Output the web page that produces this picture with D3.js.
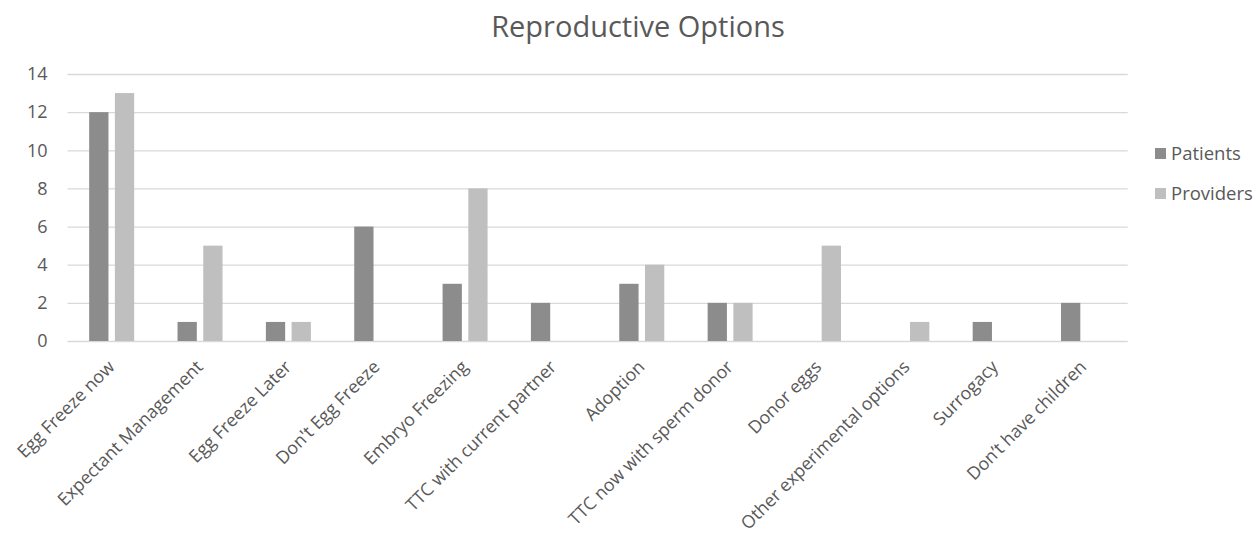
<!DOCTYPE html>
<html>
<head>
<meta charset="utf-8">
<script src="https://cdn.jsdelivr.net/npm/d3@7"></script>
<style>
  html, body { margin: 0; padding: 0; background: #fff; }
  svg { display: block; font-family: "Open Sans", "Noto Sans", sans-serif; }
</style>
</head>
<body>
<svg id="chart" width="1253" height="536"></svg>
<script>
// Survey responses per reproductive option
const categories = [
  "Egg Freeze now", "Expectant Management", "Egg Freeze Later", "Don't Egg Freeze",
  "Embryo Freezing", "TTC with current partner", "Adoption", "TTC now with sperm donor",
  "Donor eggs", "Other experimental options", "Surrogacy", "Don’t have children"
];
const patients  = [12, 1, 1, 6, 3, 2, 3, 2, 0, 0, 1, 2];
const providers = [13, 5, 1, 0, 8, 0, 4, 2, 5, 1, 0, 0];
const seriesNames = ["Patients", "Providers"];
const yTicks = [0, 2, 4, 6, 8, 10, 12, 14];

const colors = { Patients: "#8c8c8c", Providers: "#bfbfbf" };
const textColor = "#595959";

const svg = d3.select("#chart");
const plot = { left: 67.5, right: 1127.7, top: 74, bottom: 341 };

const x = d3.scaleBand().domain(categories).range([plot.left, plot.right]).paddingInner(0).paddingOuter(0);
const xSeries = d3.scaleBand().domain(seriesNames).range([0, 45]).paddingInner(0.25);
const y = d3.scaleLinear().domain([0, 14]).range([plot.bottom, plot.top]);

// Title
svg.append("text")
  .attr("x", 638).attr("y", 37)
  .attr("text-anchor", "middle")
  .attr("font-size", 29)
  .attr("fill", textColor)
  .text("Reproductive Options");

// Gridlines and y labels
const yAxis = d3.axisLeft(y).tickValues(yTicks).tickSize(plot.right - plot.left).tickPadding(20);
const gy = svg.append("g")
  .attr("transform", `translate(${plot.right},0)`)
  .call(yAxis);
gy.select(".domain").remove();
gy.selectAll(".tick line").attr("stroke", "#d9d9d9").attr("stroke-width", 1.3);
gy.selectAll(".tick text")
  .attr("font-size", 18).attr("fill", textColor)
  .attr("font-family", "'Open Sans', sans-serif");

// Bars
const rows = categories.map((c, i) => ({ cat: c, Patients: patients[i], Providers: providers[i] }));
const groupOffset = (x.bandwidth() - 45) / 2;
const groups = svg.append("g").selectAll("g")
  .data(rows).join("g")
  .attr("transform", d => `translate(${x(d.cat) + groupOffset},0)`);
groups.selectAll("rect")
  .data(d => seriesNames.map(s => ({ s, v: d[s] })).filter(e => e.v > 0))
  .join("rect")
  .attr("x", e => xSeries(e.s))
  .attr("width", xSeries.bandwidth())
  .attr("y", e => y(e.v))
  .attr("height", e => y(0) - y(e.v))
  .attr("fill", e => colors[e.s]);

// Category labels, rotated
const xAxis = d3.axisBottom(x).tickSize(0).tickPadding(0);
const gx = svg.append("g").attr("transform", `translate(0,${plot.bottom})`).call(xAxis);
gx.select(".domain").remove();
gx.selectAll(".tick text")
  .attr("font-size", 17.8)
  .attr("fill", textColor)
  .attr("font-family", "'Open Sans', sans-serif")
  .attr("text-anchor", "end")
  .attr("x", 0).attr("y", 0).attr("dy", "0")
  .attr("transform", "translate(4,27) rotate(-45)");

// Legend
const legend = svg.append("g");
seriesNames.forEach((s, i) => {
  const ly = 148 + i * 40;
  legend.append("rect").attr("x", 1155).attr("y", ly).attr("width", 11).attr("height", 11).attr("fill", colors[s]);
  legend.append("text").attr("x", 1171).attr("y", ly + 11.5)
    .attr("font-size", 18.5).attr("fill", textColor).text(s);
});
</script>
</body>
</html>
